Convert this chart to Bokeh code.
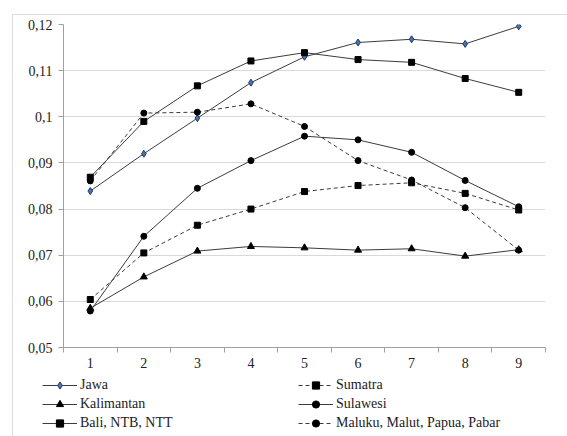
from bokeh.plotting import figure
from bokeh.models import (Range1d, FixedTicker, CustomJSTickFormatter, Legend, LegendItem, Div)
from bokeh.embed import file_html
from bokeh.resources import INLINE

x = [1, 2, 3, 4, 5, 6, 7, 8, 9]
jawa = [0.0839, 0.0920, 0.0997, 0.1074, 0.1130, 0.1161, 0.1168, 0.1158, 0.1196]
sumatra = [0.0604, 0.0705, 0.0765, 0.0800, 0.0838, 0.0851, 0.0857, 0.0834, 0.0798]
kalimantan = [0.0585, 0.0653, 0.0709, 0.0719, 0.0716, 0.0711, 0.0714, 0.0698, 0.0712]
sulawesi = [0.0579, 0.0741, 0.0845, 0.0905, 0.0958, 0.0950, 0.0923, 0.0862, 0.0805]
bali = [0.0869, 0.0990, 0.1067, 0.1121, 0.1139, 0.1124, 0.1118, 0.1083, 0.1053]
maluku = [0.0861, 0.1008, 0.1010, 0.1028, 0.0979, 0.0905, 0.0863, 0.0803, 0.0711]
y_ticks = [0.05, 0.06, 0.07, 0.08, 0.09, 0.10, 0.11, 0.12]

FONT = "Liberation Serif"
LC = "#3c3c3c"
BORDER = "#dcdcdc"

p = figure(width=567, height=373, output_backend="svg", toolbar_location=None,
           x_range=Range1d(0.5, 9.5), y_range=Range1d(0.05, 0.12),
           min_border_left=63, min_border_right=22, min_border_top=24, min_border_bottom=26)
p.outline_line_color = None
p.background_fill_color = "white"
p.border_fill_color = "white"

# axes
p.xaxis.ticker = FixedTicker(ticks=x, minor_ticks=[i + 0.5 for i in range(10)])
p.xaxis.major_tick_out = 0
p.xaxis.major_tick_in = 0
p.xaxis.minor_tick_out = 5
p.xaxis.minor_tick_in = 0
p.xaxis.minor_tick_line_color = "#a0a0a0"
p.xaxis.axis_line_color = "#a0a0a0"
p.xaxis.major_label_standoff = 5
p.yaxis.ticker = FixedTicker(ticks=y_ticks)
p.yaxis.formatter = CustomJSTickFormatter(
    code="return tick.toFixed(2).replace(/0$/, '').replace('.', ',');")
p.yaxis.major_tick_out = 5
p.yaxis.major_tick_in = 0
p.yaxis.minor_tick_line_color = None
p.yaxis.axis_line_color = "#a0a0a0"
p.yaxis.major_tick_line_color = "#a0a0a0"
p.yaxis.major_label_standoff = 6
for ax in (p.xaxis[0], p.yaxis[0]):
    ax.major_label_text_font = FONT
    ax.major_label_text_font_size = "14px"
    ax.major_label_text_color = "#222222"

p.xgrid.grid_line_color = None
p.ygrid.ticker = FixedTicker(ticks=y_ticks)
p.ygrid.grid_line_color = "#d9d9d9"

series = [
    ("Jawa", jawa, "solid", "diamond", 7, 6, "#4a72b0", "#1f3864"),
    ("Sumatra", sumatra, "4 3", "square", 6, 5, "black", "black"),
    ("Kalimantan", kalimantan, "solid", "triangle", 7, 6, "black", "black"),
    ("Sulawesi", sulawesi, "solid", "circle", 6, 5, "black", "black"),
    ("Bali, NTB, NTT", bali, "solid", "square", 6, 5, "black", "black"),
    ("Maluku, Malut, Papua, Pabar", maluku, "4 3", "circle", 6, 5, "black", "black"),
]

# legend figure below the chart (its renderers lie outside its visible ranges)
lg = figure(width=567, height=63, output_backend="svg", toolbar_location=None,
            x_range=Range1d(100, 101), y_range=Range1d(100, 101),
            min_border_left=0, min_border_right=0, min_border_top=0, min_border_bottom=0)
lg.axis.visible = False
lg.grid.grid_line_color = None
lg.outline_line_color = None
lg.border_fill_color = "white"
lg.background_fill_color = "white"

items = {}
for name, ys, dash, marker, size, lsize, fill, line in series:
    p.line(x, ys, line_color=LC, line_width=1, line_dash=dash)
    p.scatter(x, ys, marker=marker, size=size, fill_color=fill, line_color=line)
    r1 = lg.line(x, ys, line_color=LC, line_width=1, line_dash=dash)
    r2 = lg.scatter(x, ys, marker=marker, size=lsize, fill_color=fill, line_color=line)
    items[name] = LegendItem(label=name, renderers=[r1, r2])

order = ["Jawa", "Kalimantan", "Bali, NTB, NTT", "Sumatra", "Sulawesi", "Maluku, Malut, Papua, Pabar"]
legend = Legend(items=[items[n] for n in order], ncols=2, location=(42, 4),
                orientation="vertical",
                label_text_font=FONT, label_text_font_size="14px", label_text_color="#222222",
                glyph_width=35, glyph_height=18, label_height=18, label_width=217,
                label_standoff=3, spacing=1, padding=0, margin=0,
                border_line_color=None, background_fill_alpha=0)
lg.add_layout(legend, "center")

# light chart-area border (its top and left edges show in the window)
frame_div = Div(text="", styles={
    "position": "absolute", "left": "7px", "top": "9px",
    "width": "560px", "height": "427px", "box-sizing": "border-box",
    "border-top": f"1px solid {BORDER}", "border-left": f"1px solid {BORDER}",
    "pointer-events": "none", "background": "transparent", "z-index": "10"})

out = file_html([p, lg, frame_div], INLINE)
open("out.html", "w").write(out)
